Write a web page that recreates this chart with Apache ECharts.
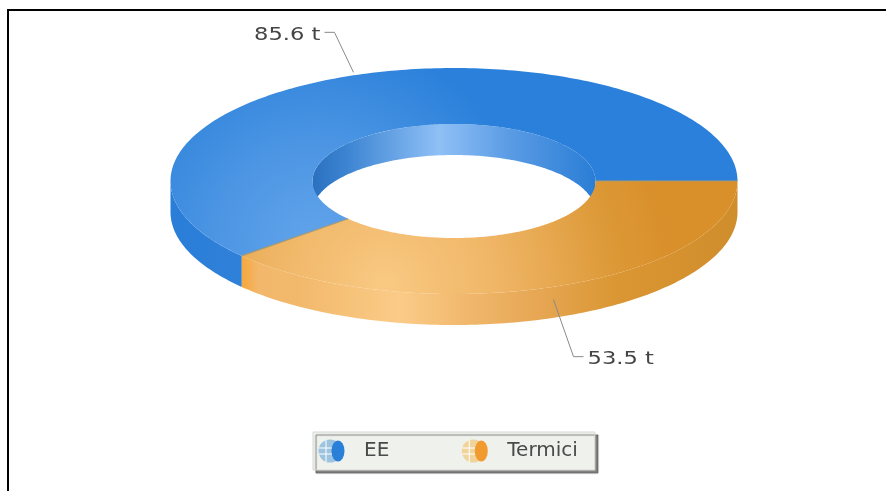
<!DOCTYPE html>
<html>
<head>
<meta charset="utf-8">
<style>html,body{margin:0;padding:0;background:#fff}#c{width:886px;height:491px;filter:blur(0.35px)}</style>
<script src="https://cdn.jsdelivr.net/npm/echarts@6/dist/echarts.min.js"></script>
</head>
<body>
<div id="c"></div>
<script>
var categories = ['EE', 'Termici'];
var values = [85.6, 53.5];
var unit = ' t';

var CX = 454, CY = 181, RX = 283.5, RY = 113, IRX = 141.5, IRY = 57, DEPTH = 31;
var total = values[0] + values[1];
var orangeSweep = values[1] / total * 360;
var spans = [[orangeSweep, 360], [0, orangeSweep]];

function pt(rx, ry, deg, dy) {
  var a = deg * Math.PI / 180;
  return [CX + rx * Math.cos(a), CY + (dy || 0) + ry * Math.sin(a)];
}
function arc(rx, ry, a0, a1, dy) {
  var n = Math.max(2, Math.ceil(Math.abs(a1 - a0))), out = [];
  for (var i = 0; i <= n; i++) out.push(pt(rx, ry, a0 + (a1 - a0) * i / n, dy));
  return out;
}
function band(a, b) { return a.concat(b.slice().reverse()); }

var G = echarts.graphic;
function hGrad(stops) {
  return new G.LinearGradient(170, 0, 737, 0, stops.map(function (s) {
    return { offset: (s[0] - 170) / 567, color: s[1] };
  }), true);
}
var styles = [
  {
    top: new G.RadialGradient(315, 245, 215, [
      { offset: 0, color: '#62a4ea' }, { offset: 0.45, color: '#4d96e4' }, { offset: 1, color: '#2a80da' }
    ], true),
    wall: hGrad([[170, '#2a7ed8'], [243, '#2f80d8'], [737, '#2a7ed8']]),
    line: '#7f8f8f'
  },
  {
    top: new G.RadialGradient(385, 285, 290, [
      { offset: 0, color: '#f9c983' }, { offset: 0.4, color: '#efb565' },
      { offset: 0.8, color: '#dc9836' }, { offset: 1, color: '#d98f2a' }
    ], true),
    wall: hGrad([[243, '#f6a83e'], [258, '#f2b76a'], [300, '#f2b96c'], [400, '#fbcb87'],
                 [470, '#f0b76c'], [540, '#e6a653'], [620, '#da9632'], [737, '#d08d2c']]),
    line: '#a89a70'
  }
];
var innerWall = new G.LinearGradient(312, 0, 595, 0, [
  { offset: 0, color: '#2a70bf' }, { offset: 0.12, color: '#3c84d2' }, { offset: 0.45, color: '#8fc0f6' },
  { offset: 0.7, color: '#5a9be4' }, { offset: 1, color: '#2a7ed6' }
], true);

function renderRing(idx) {
  return function (params, api) {
    var span = spans[idx], value = api.value(0);
    var a0 = span[0], a1 = span[1], mid = (a0 + a1) / 2, kids = [];
    var st = styles[idx];
    var w0 = Math.max(a0, 0), w1 = Math.min(a1, 180);
    if (w1 > w0) {
      kids.push({ type: 'polygon', shape: { points: band(arc(RX, RY, w0, w1), arc(RX, RY, w0, w1, DEPTH)) },
        style: { fill: st.wall } });
    }
    var i0 = Math.max(a0, 180), i1 = Math.min(a1, 360);
    if (i1 > i0) {
      kids.push({ type: 'polygon', shape: { points: band(arc(IRX, IRY, i0, i1), arc(IRX, IRY, i0, i1, DEPTH)) },
        style: { fill: innerWall } });
    }
    kids.push({ type: 'polygon', shape: { points: band(arc(RX, RY, a0, a1), arc(IRX, IRY, a0, a1)) },
      style: { fill: st.top } });
    if (idx === 1) {
      [a0, a1].forEach(function (a) {
        kids.push({ type: 'polyline', shape: { points: [pt(IRX, IRY, a), pt(RX, RY, a)] },
          style: { fill: null, stroke: st.line, lineWidth: 1.2 } });
      });
    }
    var p = pt(RX, RY, mid);
    var up = Math.sin(mid * Math.PI / 180) < 0;
    var hs = Math.cos(mid * Math.PI / 180) < 0 ? -1 : 1;
    var start = up ? [p[0], p[1] - 3] : [p[0] - 1, p[1] + 13];
    var elbow = up ? [p[0] + hs * 19, p[1] - 43] : [p[0] + hs * 19, p[1] + 70];
    var tail = [elbow[0] + hs * 10, elbow[1]];
    kids.push({ type: 'polyline', shape: { points: [start, elbow, tail] },
      style: { fill: null, stroke: '#8a8a8a', lineWidth: 1 } });
    kids.push({
      type: 'text', x: tail[0] + hs * 4, y: elbow[1] + 3, scaleX: 1.33,
      style: { text: value + unit, fill: '#444', font: '17px "DejaVu Sans"',
        align: hs < 0 ? 'right' : 'left', verticalAlign: 'middle' }
    });
    return { type: 'group', children: kids };
  };
}

function icon(fill, pale) {
  var svg = '<svg xmlns="http://www.w3.org/2000/svg" width="27" height="24" viewBox="0 0 27 24">' +
    '<circle cx="12" cy="12" r="11.5" fill="' + pale + '"/>' +
    '<path d="M1 9H20M1 15H20M8 1V23" stroke="#fff" stroke-width="1" fill="none"/>' +
    '<ellipse cx="20" cy="12" rx="6.5" ry="10.5" fill="' + fill + '"/></svg>';
  return 'image://data:image/svg+xml;charset=utf-8,' + encodeURIComponent(svg);
}

var chart = echarts.init(document.getElementById('c'), null, { renderer: 'canvas' });
chart.setOption({
  animation: false,
  backgroundColor: '#ffffff',
  legend: {
    left: 313, top: 432, orient: 'horizontal', itemWidth: 27, itemHeight: 24, itemGap: 72,
    padding: [7, 17, 7, 5],
    backgroundColor: '#eff1ec', borderColor: '#d8d9d4', borderWidth: 1,
    shadowColor: 'rgba(80,80,80,0.7)', shadowBlur: 1, shadowOffsetX: 3, shadowOffsetY: 3,
    textStyle: { color: '#4a4a4a', fontFamily: 'DejaVu Sans', fontSize: 20, padding: [0, 0, 0, 14] },
    data: [
      { name: categories[0], icon: icon('#2a7fd8', '#9cc3e0') },
      { name: categories[1], icon: icon('#f09a30', '#f0d49c') }
    ]
  },
  graphic: [
    { type: 'line', silent: true, shape: { x1: 7, y1: 10, x2: 886, y2: 10 }, style: { stroke: '#000', lineWidth: 2 } },
    { type: 'line', silent: true, shape: { x1: 8, y1: 9, x2: 8, y2: 491 }, style: { stroke: '#000', lineWidth: 2 } }
  ],
  series: categories.map(function (name, i) {
    return { type: 'custom', name: name, coordinateSystem: 'none', renderItem: renderRing(i),
      data: [[values[i]]], itemStyle: { color: i ? '#f09a30' : '#2a7fd8' }, silent: true };
  })
});
</script>
</body>
</html>
